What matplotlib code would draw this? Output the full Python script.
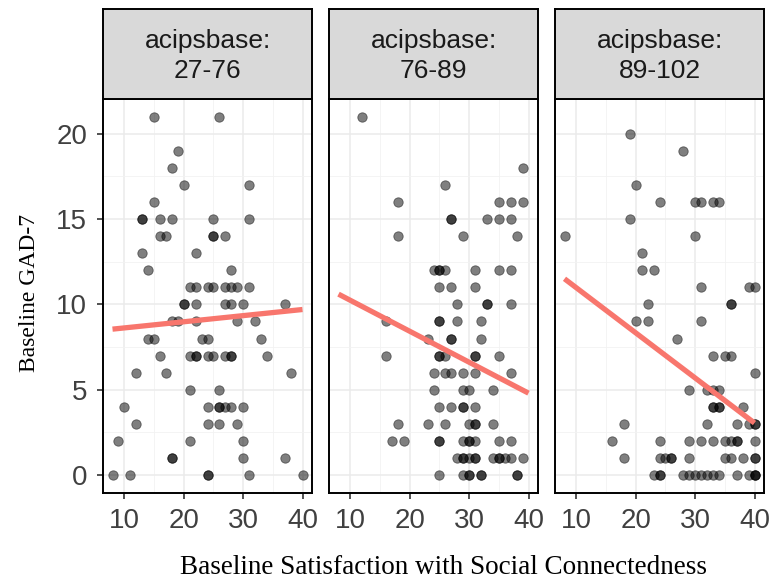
import numpy as np
import matplotlib
matplotlib.use("Agg")
import matplotlib.pyplot as plt
from matplotlib.ticker import MultipleLocator

# facet labels
strips = ["acipsbase:\n27-76", "acipsbase:\n76-89", "acipsbase:\n89-102"]

# panel 1 (acipsbase 27-76): satisfaction score, GAD-7
p1_x = [15, 26, 19, 18, 20, 31, 15,
        13, 13, 16, 18, 25, 31,
        16, 17, 25, 25, 27,
        13, 22, 14, 28,
        21, 22, 24, 25, 27, 28, 29, 31,
        20, 20, 22, 27, 28, 30, 37,
        18, 19, 22, 29, 32,
        14, 15, 23, 24, 33,
        16, 21, 22, 22, 24, 25, 27, 28, 28, 34,
        12, 17, 38, 21, 26,
        10, 24, 26, 26, 27, 28, 30,
        12, 24, 26, 29,
        9, 21, 30,
        18, 18, 30, 37,
        8, 11, 24, 24, 31, 40]
p1_y = [21, 21, 19, 18, 17, 17, 16,
        15, 15, 15, 15, 15, 15,
        14, 14, 14, 14, 14,
        13, 13, 12, 12,
        11, 11, 11, 11, 11, 11, 11, 11,
        10, 10, 10, 10, 10, 10, 10,
        9, 9, 9, 9, 9,
        8, 8, 8, 8, 8,
        7, 7, 7, 7, 7, 7, 7, 7, 7, 7,
        6, 6, 6, 5, 5,
        4, 4, 4, 4, 4, 4, 4,
        3, 3, 3, 3,
        2, 2, 2,
        1, 1, 1, 1,
        0, 0, 0, 0, 0, 0]

# panel 2 (acipsbase 76-89)
p2_x = [12, 39, 26,
        18, 35, 37, 39,
        27, 27, 33, 35, 37,
        18, 29, 38,
        24, 25, 25, 26, 31, 35, 37,
        25, 27, 31,
        28, 33, 33, 37,
        16, 25, 25, 28, 32,
        23, 27, 27, 32,
        16, 25, 25, 26, 31, 31, 35,
        24, 26, 27, 29, 31, 37,
        24, 29, 30, 34,
        25, 27, 29, 29, 31,
        18, 23, 26, 30, 31, 31, 34,
        17, 19, 25, 25, 29, 30, 30, 31, 35, 37,
        28, 29, 29, 30, 31, 31, 34, 35, 35, 36, 37, 39,
        25, 29, 30, 30, 32, 32, 38, 38]
p2_y = [21, 18, 17,
        16, 16, 16, 16,
        15, 15, 15, 15, 15,
        14, 14, 14,
        12, 12, 12, 12, 12, 12, 12,
        11, 11, 11,
        10, 10, 10, 10,
        9, 9, 9, 9, 9,
        8, 8, 8, 8,
        7, 7, 7, 7, 7, 7, 7,
        6, 6, 6, 6, 6, 6,
        5, 5, 5, 5,
        4, 4, 4, 4, 4,
        3, 3, 3, 3, 3, 3, 3,
        2, 2, 2, 2, 2, 2, 2, 2, 2, 2,
        1, 1, 1, 1, 1, 1, 1, 1, 1, 1, 1, 1,
        0, 0, 0, 0, 0, 0, 0, 0]

# panel 3 (acipsbase 89-102)
p3_x = [19, 28, 20,
        24, 30, 31, 33, 34,
        19, 8, 30, 21, 21, 23,
        31, 39, 40,
        22, 36, 36,
        20, 22, 31, 27,
        33, 35, 36, 40,
        29, 32, 33, 34,
        33, 33, 34, 34, 38,
        18, 32, 37, 39, 40, 40,
        16, 24, 29, 31, 33, 35, 36, 37, 37, 40,
        18, 24, 25, 26, 26, 29, 35, 36, 38, 40, 40,
        23, 24, 24, 28, 29, 30, 31, 32, 33, 34, 37, 39, 40, 40, 40]
p3_y = [20, 19, 17,
        16, 16, 16, 16, 16,
        15, 14, 14, 13, 12, 12,
        11, 11, 11,
        10, 10, 10,
        9, 9, 9, 8,
        7, 7, 7, 6,
        5, 5, 5, 5,
        4, 4, 4, 4, 4,
        3, 3, 3, 3, 3, 3,
        2, 2, 2, 2, 2, 2, 2, 2, 2, 2,
        1, 1, 1, 1, 1, 1, 1, 1, 1, 1, 1,
        0, 0, 0, 0, 0, 0, 0, 0, 0, 0, 0, 0, 0, 0, 0]

# fitted lm lines (x = 8 and x = 40)
fit_x = [8, 40]
fit_y = [[8.55, 9.7], [10.6, 4.8], [11.5, 3.05]]

xs = [p1_x, p2_x, p3_x]
ys = [p1_y, p2_y, p3_y]

W, H = 774, 585
fig = plt.figure(figsize=(W / 100, H / 100), dpi=100)

sans = ["Liberation Sans", "DejaVu Sans"]
serif = ["Liberation Serif", "DejaVu Serif"]

lefts = [103, 329, 555]
pw = 209
p_top, p_bot = 98.7, 493
s_top = 9.3

for i in range(3):
    ax = fig.add_axes([lefts[i] / W, 1 - p_bot / H, pw / W, (p_bot - p_top) / H])
    ax.set_xlim(6.4, 41.6)
    ax.set_ylim(-1.05, 22.05)
    ax.xaxis.set_major_locator(MultipleLocator(10))
    ax.xaxis.set_minor_locator(MultipleLocator(5))
    ax.yaxis.set_major_locator(MultipleLocator(5))
    ax.yaxis.set_minor_locator(MultipleLocator(2.5))
    ax.grid(which="major", color="#EBEBEB", lw=1.1)
    ax.grid(which="minor", color="#F2F2F2", lw=0.6)
    ax.set_axisbelow(True)
    ax.tick_params(which="minor", length=0)
    ax.tick_params(which="major", length=4.5, width=1.2, color="#333333",
                   labelsize=20, labelcolor="#404040")
    ax.tick_params(axis="x", pad=6)
    ax.tick_params(axis="y", pad=7)
    for lab in ax.get_xticklabels() + ax.get_yticklabels():
        lab.set_family(sans)
    if i > 0:
        ax.tick_params(axis="y", length=0, labelleft=False)
    for sp in ax.spines.values():
        sp.set_color("black")
        sp.set_linewidth(1.4)

    ax.scatter(xs[i], ys[i], s=46, c="black", alpha=0.5, linewidths=0.6,
               edgecolors="black", zorder=3)
    ax.plot(fit_x, fit_y[i], color="#F8766D", lw=3.8, zorder=4,
            solid_capstyle="butt")

    sax = fig.add_axes([lefts[i] / W, 1 - p_top / H, pw / W, (p_top - s_top) / H])
    sax.set_facecolor("#D9D9D9")
    sax.set_xticks([])
    sax.set_yticks([])
    for sp in sax.spines.values():
        sp.set_color("black")
        sp.set_linewidth(1.4)
    sax.text(0.5, 0.48, strips[i], ha="center", va="center", fontsize=19,
             family=sans, color="#1A1A1A", linespacing=1.32,
             transform=sax.transAxes)

fig.text(30 / W, 1 - 293 / H, "Baseline GAD-7", rotation=90, ha="center",
         va="center", fontsize=17, family=serif, color="black")
fig.text(443 / W, 1 - 567 / H, "Baseline Satisfaction with Social Connectedness",
         ha="center", va="center", fontsize=19.5, family=serif, color="black")

fig.savefig("out.png", dpi=100)
